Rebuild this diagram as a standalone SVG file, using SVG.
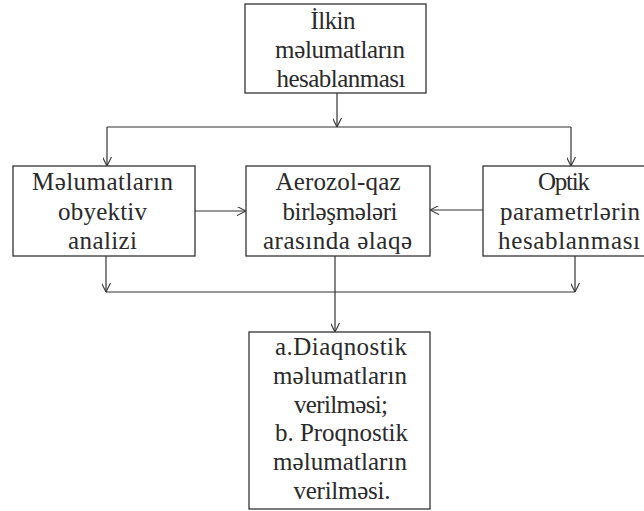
<svg xmlns="http://www.w3.org/2000/svg" width="644" height="511" viewBox="0 0 644 511">
<style>
.box{fill:#fff;stroke:#333;stroke-width:1.3}
text{font-family:"Liberation Serif","Times New Roman",serif;font-size:25px;fill:#2a2a2a;text-anchor:middle}
.c{fill:none;stroke:#333;stroke-width:1.2}
</style>
<defs>
<marker id="a" viewBox="0 0 10 10" refX="10" refY="5" markerWidth="9" markerHeight="9" orient="auto" markerUnits="userSpaceOnUse">
<path d="M0,0 L10,5 L0,10" fill="none" stroke="#333" stroke-width="1.2"/>
</marker>
</defs>
<rect width="644" height="511" fill="#fff"/>
<g id="connectors">
<line class="c" x1="337" y1="93" x2="337" y2="127" marker-end="url(#a)"/>
<line class="c" x1="107" y1="127" x2="571" y2="127"/>
<line class="c" x1="107" y1="127" x2="107" y2="166" marker-end="url(#a)"/>
<line class="c" x1="571" y1="127" x2="571" y2="166" marker-end="url(#a)"/>
<line class="c" x1="195" y1="211" x2="246" y2="211" marker-end="url(#a)"/>
<line class="c" x1="483" y1="210" x2="430" y2="210" marker-end="url(#a)"/>
<line class="c" x1="106" y1="256" x2="106" y2="292" marker-end="url(#a)"/>
<line class="c" x1="575" y1="256" x2="575" y2="292" marker-end="url(#a)"/>
<line class="c" x1="106" y1="292" x2="575" y2="292"/>
<line class="c" x1="335" y1="256" x2="335" y2="332" marker-end="url(#a)"/>
</g>
<g id="n1">
<rect class="box" x="245" y="4" width="181" height="89"/>
<text x="333" y="29" textLength="45" lengthAdjust="spacing">İlkin</text>
<text x="340" y="58" textLength="130" lengthAdjust="spacing">məlumatların</text>
<text x="341" y="87" textLength="129" lengthAdjust="spacing">hesablanması</text>
</g>
<g id="n2">
<rect class="box" x="13" y="166" width="182" height="90"/>
<text x="102.5" y="190" textLength="141" lengthAdjust="spacing">Məlumatların</text>
<text x="102.5" y="220" textLength="89" lengthAdjust="spacing">obyektiv</text>
<text x="102.5" y="249" textLength="69" lengthAdjust="spacing">analizi</text>
</g>
<g id="n3">
<rect class="box" x="246" y="166" width="184" height="90"/>
<text x="338" y="190" textLength="125" lengthAdjust="spacing">Aerozol-qaz</text>
<text x="340" y="220" textLength="115" lengthAdjust="spacing">birləşmələri</text>
<text x="337.5" y="249" textLength="149" lengthAdjust="spacing">arasında əlaqə</text>
</g>
<g id="n4">
<rect class="box" x="483" y="166" width="172" height="90"/>
<text x="564" y="190" textLength="52" lengthAdjust="spacing">Optik</text>
<text x="570" y="220" textLength="140" lengthAdjust="spacing">parametrlərin</text>
<text x="569" y="249" textLength="142" lengthAdjust="spacing">hesablanması</text>
</g>
<g id="n5">
<rect class="box" x="249" y="332" width="181" height="177"/>
<text x="341" y="355" textLength="132" lengthAdjust="spacing">a.Diaqnostik</text>
<text x="340" y="384" textLength="134" lengthAdjust="spacing">məlumatların</text>
<text x="341" y="413" textLength="94" lengthAdjust="spacing">verilməsi;</text>
<text x="341.5" y="441" textLength="133" lengthAdjust="spacing">b. Proqnostik</text>
<text x="340" y="470" textLength="134" lengthAdjust="spacing">məlumatların</text>
<text x="342" y="499" textLength="97" lengthAdjust="spacing">verilməsi.</text>
</g>
</svg>
